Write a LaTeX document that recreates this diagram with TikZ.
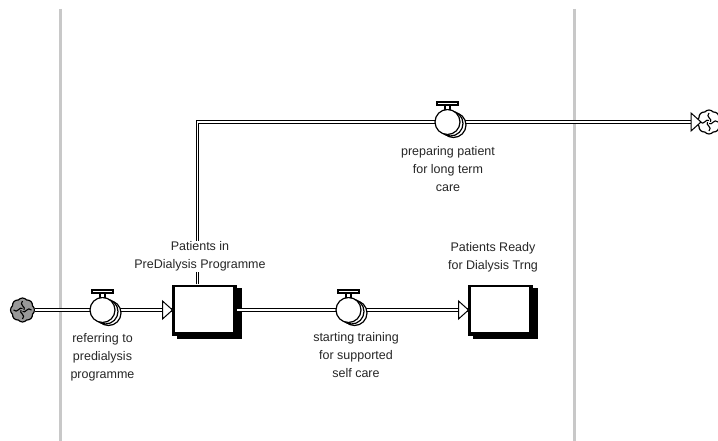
\documentclass[tikz,border=0pt]{standalone}
\usepackage{fontspec}
\setmainfont{Liberation Sans}
\usetikzlibrary{positioning, shapes.symbols, calc}
\definecolor{railgray}{HTML}{C8C8C8}
\begin{document}
\begin{tikzpicture}[x=1pt,y=-1pt,
      stock/.style = {fill=white, minimum width=58pt, minimum height=45pt, inner sep=0pt},
      frame/.style = {fill=black, minimum width=65pt, minimum height=51pt, inner sep=0pt},
      lbl/.style = {font=\fontsize{12.5pt}{18pt}\selectfont, align=center, inner sep=1pt, fill=white, text=black!85},
      valve/.style = {circle, draw, line width=1.2pt, fill=white, minimum size=25pt, inner sep=0pt},
      puff/.style = {cloud, cloud puffs=8, cloud puff arc=100, aspect=0.9, draw, line width=1.2pt, minimum size=24pt, inner sep=0pt},
      pipe/.style = {double, double distance=1.5pt, line width=1.2pt},
      rail/.style = {railgray, line width=3pt}
    ]
    \useasboundingbox (0,0) rectangle (718,441);

    \draw[rail] (60,9) -- (60,441);
    \draw[rail] (574,9) -- (574,441);

    % stocks
    \node[frame] (patientsback) at (209,313.5) {};
    \node[frame] (patientsedge) at (204.5,310) {};
    \node[stock] (patients) at (204,309.5) {};
    \node[frame] (readyback) at (505,313.5) {};
    \node[frame] (readyedge) at (500.5,310) {};
    \node[stock] (ready) at (500,309.5) {};

    % clouds
    \node[puff, fill=black!40] (source) at (22.5,310) {};
    \node[puff, fill=white] (sink) at (709,122) {};
    \foreach \c in {source, sink}
      \foreach \a in {0,90,180,270}
        \draw[line width=1.1pt, rotate around={\a:(\c)}] ($(\c)+(0,-9)$) .. controls ($(\c)+(-4,-5)$) and ($(\c)+(4,-3)$) .. ($(\c)+(1.5,0)$);

    % valves
    \coordinate (refer) at (102.5,310);
    \coordinate (start) at (348.5,310);
    \coordinate (prep) at (447.5,122);

    % pipes
    \coordinate (corner) at (197.5,122);
    \draw[pipe] (source) -- (patientsedge);
    \draw[pipe] (patientsedge) -- (readyedge);
    \draw[pipe] (patientsedge.north -| corner) -- (corner) -- (sink);

    % arrowheads
    \foreach \tipx/\tipy in {172.5/310, 468.5/310, 701/122}
      \draw[line width=1pt, fill=white] (\tipx,\tipy) -- ++(-10,-9) -- ++(0,18) -- cycle;

    \foreach \v/\name in {refer/r, start/s, prep/p} {
      \node[valve] (\name c) at ($(\v)+(6,3)$) {};
      \node[valve] (\name b) at ($(\v)+(3,1.5)$) {};
      \node[valve] (\name) at (\v) {};
      \draw[line width=1.2pt, fill=white] ($(\v)+(-2.5,-12.5)$) rectangle ($(\v)+(2.5,-17)$);
      \draw[line width=1.2pt, fill=white] ($(\v)+(-10.5,-20)$) rectangle ++(21,3);
    }

    \node[lbl] (lblrefer) at (102.5,357) {referring to\\predialysis\\programme};
    \node[lbl] (lblstart) at (356,355) {starting training\\for supported\\self care};
    \node[lbl] (lblprep) at (448,169) {preparing patient\\for long term\\care};
    \node[lbl] (lblpat) at (200,256.5) {Patients in\\PreDialysis Programme};
    \node[lbl] (lblready) at (493,257) {Patients Ready\\for Dialysis Trng};
\end{tikzpicture}
\end{document}
